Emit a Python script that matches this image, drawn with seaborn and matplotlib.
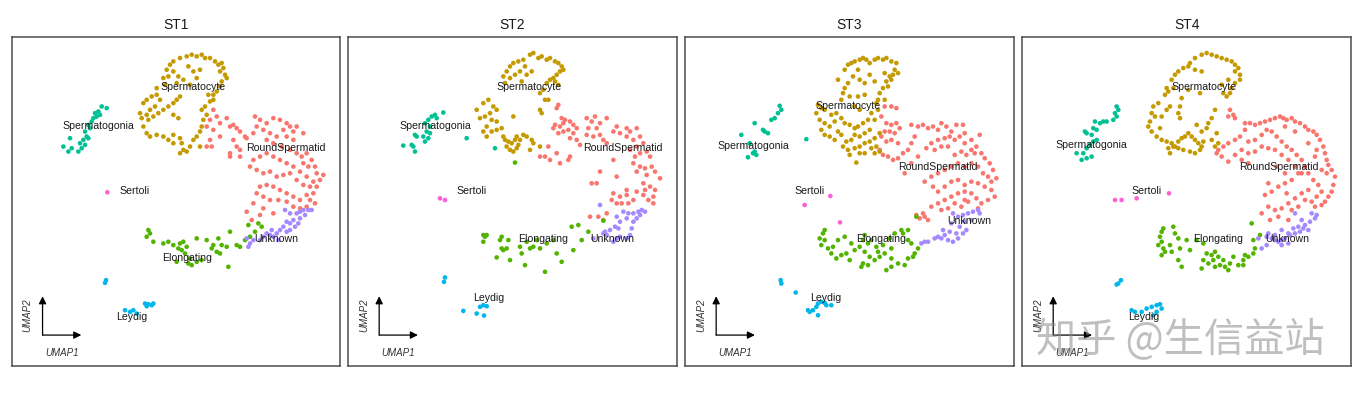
#!/usr/bin/env python3

import pandas as pd
import matplotlib
matplotlib.use("Agg")
import matplotlib.pyplot as plt
import seaborn as sns

# Cell type colours (ggplot default hue order of the Seurat object)
CELL_COLORS = {
    'RoundSpermatid': '#F8766D',
    'Spermatocyte':   '#C49A00',
    'Elongating':     '#53B400',
    'Spermatogonia':  '#00C094',
    'Leydig':         '#00B6EB',
    'Unknown':        '#A58AFF',
    'Sertoli':        '#FB61D7',
}
SAMPLES = ['ST1', 'ST2', 'ST3', 'ST4']

# ---------------- ST1 ----------------
ST1_SPERMATOCYTE = [
    (4.90, 7.65), (5.00, 7.90), (5.10, 8.05), (5.20, 8.15), (5.40, 8.25), (5.60, 8.30), (5.75, 8.35),
    (5.90, 8.30), (6.05, 8.35), (6.15, 8.25), (6.30, 8.25), (6.45, 8.15), (6.55, 8.05), (6.65, 8.10),
    (6.70, 7.95), (6.60, 7.85), (6.75, 7.75), (6.80, 7.65), (6.65, 7.55), (6.60, 7.40), (6.50, 7.25),
    (6.40, 7.15), (5.20, 7.85), (5.35, 7.70), (5.50, 7.60), (5.65, 8.00), (5.80, 7.85), (6.00, 7.90),
    (5.90, 7.65), (5.70, 7.45), (5.30, 7.50), (5.05, 7.70), (4.95, 7.45), (4.70, 7.35), (4.30, 6.90),
    (4.40, 7.00), (4.55, 7.10), (4.70, 7.15), (4.80, 7.00), (4.65, 6.80), (4.50, 6.70), (4.40, 6.55),
    (4.25, 6.45), (4.20, 6.60), (4.45, 6.40), (4.60, 6.50), (4.75, 6.60), (4.90, 6.70), (5.05, 6.80),
    (5.20, 6.90), (5.30, 7.00), (5.40, 7.10), (5.20, 6.55), (5.35, 6.45), (4.30, 6.20), (4.40, 6.00),
    (4.50, 5.90), (4.70, 5.95), (4.90, 5.90), (5.05, 5.80), (5.20, 5.95), (5.40, 5.85), (5.45, 5.70),
    (5.50, 5.50), (5.40, 5.40), (5.60, 5.45), (5.70, 5.60), (5.80, 5.80), (5.90, 5.90), (6.00, 6.05),
    (6.05, 6.20), (6.10, 6.40), (6.05, 6.70), (6.15, 6.80), (6.30, 6.95), (6.40, 7.00), (6.25, 7.15),
    (6.20, 6.55), (6.00, 5.60), (5.20, 5.70),
]
ST1_SPERMATOGONIA = [
    (3.05, 6.80), (3.20, 6.75), (2.95, 6.65), (2.85, 6.60), (3.00, 6.55), (2.80, 6.45), (2.90, 6.50),
    (2.75, 6.35), (2.65, 6.25), (2.70, 6.15), (2.55, 6.05), (2.60, 5.90), (2.50, 5.80), (2.65, 5.85),
    (2.40, 5.70), (2.55, 5.65), (2.35, 5.45), (2.10, 5.85), (1.90, 5.60), (2.05, 5.45), (2.15, 5.55),
    (2.45, 5.55),
]
ST1_SERTOLI = [(3.22, 4.23)]
ST1_LEYDIG = [
    (3.18, 1.60), (3.15, 1.52), (4.35, 0.90), (4.45, 0.88), (4.55, 0.85), (4.60, 0.90), (4.40, 0.82),
    (3.75, 0.70), (3.90, 0.65), (4.00, 0.70), (4.10, 0.60),
]
ST1_ROUND = [
    (6.40, 6.70), (6.50, 6.50), (6.30, 6.40), (6.20, 6.20), (6.40, 6.10), (6.60, 6.30), (6.80, 6.45),
    (6.90, 6.20), (7.00, 6.25), (7.10, 6.15), (7.20, 6.05), (7.35, 5.90), (7.00, 5.80), (7.10, 5.60),
    (6.90, 5.40), (7.20, 5.30), (7.40, 5.85), (6.30, 5.80), (6.20, 5.60), (6.35, 5.60), (6.60, 5.90),
    (7.65, 6.50), (7.80, 6.40), (8.00, 6.30), (8.20, 6.45), (8.40, 6.40), (8.60, 6.30), (8.50, 6.10),
    (8.70, 6.20), (8.80, 6.05), (8.90, 6.20), (9.10, 6.00), (8.80, 5.80), (8.60, 5.90), (8.30, 5.90),
    (8.10, 6.00), (7.90, 6.10), (7.70, 6.20), (7.60, 6.00), (8.00, 5.80), (8.20, 5.70), (8.45, 5.60),
    (8.70, 5.50), (8.90, 5.40), (9.05, 5.30), (9.20, 5.40), (9.35, 5.20), (9.10, 5.10), (9.25, 5.00),
    (9.45, 5.00), (9.50, 4.80), (9.60, 4.60), (9.70, 4.75), (9.40, 4.55), (9.20, 4.70), (9.00, 4.85),
    (8.80, 5.00), (8.60, 5.10), (8.40, 5.20), (8.20, 5.30), (8.00, 5.40), (7.80, 5.30), (7.60, 5.20),
    (7.50, 5.00), (7.70, 4.90), (7.90, 4.80), (8.10, 4.85), (8.30, 4.70), (8.50, 4.75), (8.70, 4.80),
    (8.90, 4.60), (9.10, 4.45), (9.30, 4.40), (9.50, 4.40), (9.40, 4.20), (9.20, 4.15), (9.30, 4.00),
    (9.45, 3.90), (9.20, 3.80), (9.00, 4.00), (8.80, 4.10), (8.60, 4.20), (8.40, 4.30), (8.20, 4.40),
    (8.00, 4.45), (7.80, 4.40), (7.70, 4.20), (7.90, 4.10), (8.10, 4.00), (8.35, 4.00), (8.60, 3.95),
    (8.80, 3.80), (9.00, 3.75), (7.60, 3.90), (7.90, 3.75), (7.40, 3.65), (7.55, 3.40), (7.80, 3.55),
    (8.20, 3.60), (7.20, 5.50), (6.90, 5.30),
]
ST1_UNKNOWN = [
    (8.55, 3.70), (8.70, 3.60), (8.90, 3.60), (9.00, 3.65), (9.10, 3.70), (9.25, 3.70), (9.35, 3.70),
    (9.15, 3.55), (9.00, 3.45), (8.80, 3.40), (8.70, 3.30), (8.60, 3.35), (8.50, 3.20), (8.40, 3.10),
    (8.30, 3.00), (8.15, 3.10), (8.00, 3.00), (7.90, 2.90), (7.80, 2.80), (7.60, 2.80), (7.50, 2.70),
    (7.45, 2.60), (7.40, 2.85), (8.70, 3.10), (8.85, 3.20), (8.95, 3.30), (8.20, 2.90), (8.10, 2.95),
    (8.35, 2.80), (8.60, 3.05),
]
ST1_ELONGATING = [
    (4.45, 3.10), (4.50, 3.00), (4.40, 2.90), (4.60, 2.75), (4.90, 2.70), (5.05, 2.75), (5.20, 2.65),
    (5.40, 2.70), (5.50, 2.75), (5.60, 2.60), (5.45, 2.50), (5.35, 2.55), (5.55, 2.40), (5.70, 2.25),
    (5.65, 2.10), (5.75, 2.05), (5.90, 2.15), (6.05, 2.20), (5.90, 2.85), (6.20, 2.80), (6.40, 2.65),
    (6.55, 2.85), (6.65, 2.65), (6.35, 2.55), (6.50, 2.45), (6.60, 2.40), (6.80, 2.60), (6.90, 3.05),
    (7.10, 2.65), (7.20, 2.60), (7.35, 2.80), (7.50, 2.90), (7.65, 3.05), (7.75, 3.30), (7.85, 3.20),
    (7.45, 3.25), (6.85, 2.00), (5.30, 2.15),
]
ST1_LABELS = {
    'Spermatocyte': (5.78, 7.38), 'Spermatogonia': (2.95, 6.22), 'RoundSpermatid': (8.58, 5.55),
    'Sertoli': (4.05, 4.27), 'Unknown': (8.28, 2.82), 'Elongating': (5.62, 2.25), 'Leydig': (3.95, 0.50),
}

# ---------------- ST2 ----------------
ST2_SPERMATOCYTE = [
    (5.00, 7.85), (5.10, 8.00), (5.20, 8.10), (5.35, 8.15), (5.50, 8.20), (5.70, 8.35), (5.80, 8.40),
    (5.95, 8.25), (6.05, 8.30), (6.20, 8.20), (6.30, 8.25), (6.45, 8.15), (6.55, 8.10), (6.65, 8.00),
    (6.70, 7.90), (6.60, 7.85), (6.50, 7.75), (6.40, 7.65), (6.30, 7.60), (6.45, 7.55), (6.55, 7.45),
    (6.20, 7.50), (6.10, 7.30), (6.00, 7.20), (6.15, 7.00), (6.25, 7.00), (6.00, 6.70), (6.05, 6.60),
    (5.40, 7.85), (5.55, 8.00), (5.60, 7.75), (5.25, 7.75), (5.10, 7.65), (4.95, 7.50), (5.45, 7.55),
    (5.75, 7.85), (4.90, 7.70), (4.10, 6.70), (4.30, 6.90), (4.45, 7.00), (4.60, 6.80), (4.70, 6.70),
    (4.50, 6.60), (4.35, 6.50), (4.20, 6.45), (4.55, 6.40), (4.70, 6.35), (4.40, 6.20), (4.30, 6.05),
    (4.40, 5.90), (4.55, 6.05), (4.70, 6.10), (4.85, 6.15), (4.90, 5.90), (4.95, 5.80), (5.05, 5.75),
    (5.15, 5.70), (5.25, 5.80), (5.30, 5.90), (5.00, 5.60), (5.10, 5.50), (5.20, 5.45), (5.30, 5.55),
    (5.35, 5.65), (5.40, 5.80), (5.50, 5.95), (5.60, 5.90), (5.75, 5.80), (5.80, 5.70), (5.70, 5.50),
    (6.00, 5.60), (5.20, 6.50),
]
ST2_SPERMATOGONIA = [
    (3.10, 6.62), (2.75, 6.50), (2.85, 6.55), (2.90, 6.45), (2.65, 6.40), (2.55, 6.30), (2.70, 6.20),
    (2.60, 6.05), (2.70, 6.00), (2.50, 5.90), (2.65, 5.85), (2.55, 5.75), (2.30, 5.90), (2.25, 5.95),
    (2.15, 5.65), (2.20, 5.60), (2.25, 5.45), (1.90, 5.63), (3.80, 5.85), (4.65, 5.55),
]
ST2_SERTOLI = [(3.00, 4.05), (3.15, 4.00)]
ST2_LEYDIG = [
    (3.15, 1.68), (3.12, 1.55), (4.20, 0.80), (4.30, 0.85), (4.40, 0.82), (4.10, 0.60), (4.32, 0.54),
    (3.70, 0.68),
]
ST2_ROUND = [
    (6.55, 6.85), (6.50, 6.75), (6.65, 6.45), (6.75, 6.40), (6.90, 6.35), (7.00, 6.25), (7.10, 6.15),
    (6.70, 6.30), (6.60, 6.20), (6.45, 6.25), (6.40, 6.15), (6.55, 6.00), (6.70, 6.05), (6.85, 6.10),
    (7.00, 6.00), (7.10, 5.80), (6.90, 5.85), (7.20, 5.65), (6.90, 5.30), (6.85, 5.20), (6.60, 5.10),
    (6.30, 5.20), (6.15, 5.30), (6.00, 5.30), (6.25, 5.60), (6.50, 5.40), (7.40, 6.45), (7.55, 6.35),
    (7.65, 6.50), (7.80, 6.30), (8.00, 6.45), (7.70, 6.15), (7.45, 6.15), (7.40, 5.95), (7.60, 5.90),
    (7.80, 5.95), (7.90, 5.80), (8.00, 5.70), (8.20, 6.05), (8.30, 6.20), (8.40, 6.00), (8.60, 6.15),
    (8.70, 6.05), (8.90, 6.15), (8.60, 5.90), (8.80, 5.80), (9.00, 5.90), (9.10, 5.70), (8.90, 5.60),
    (8.70, 5.50), (9.00, 5.40), (9.20, 5.45), (9.30, 5.30), (8.85, 5.30), (8.80, 5.10), (9.00, 5.00),
    (9.15, 4.95), (9.35, 5.00), (9.45, 4.85), (9.60, 4.65), (9.20, 4.75), (8.90, 4.85), (9.10, 4.50),
    (9.15, 4.30), (9.30, 4.40), (9.45, 4.30), (9.40, 4.10), (9.25, 4.00), (9.10, 4.15), (8.90, 4.25),
    (8.80, 4.00), (8.65, 3.90), (8.45, 3.90), (8.30, 3.90), (8.15, 4.00), (8.20, 4.20), (8.40, 4.10),
    (8.60, 4.15), (9.40, 3.90), (8.20, 5.20), (7.80, 4.85), (7.70, 4.50), (7.55, 4.50), (8.30, 4.70),
    (7.50, 3.50), (7.75, 3.50), (7.90, 3.40), (8.00, 3.60), (8.60, 4.30),
]
ST2_UNKNOWN = [
    (7.80, 3.85), (8.50, 3.65), (8.65, 3.60), (8.80, 3.60), (8.95, 3.65), (9.05, 3.70), (9.15, 3.65),
    (9.00, 3.55), (8.90, 3.45), (8.80, 3.35), (8.60, 3.45), (8.40, 3.35), (8.25, 3.20), (8.35, 3.15),
    (8.10, 3.10), (7.95, 3.05), (7.90, 3.00), (8.00, 2.95), (8.20, 2.75), (8.30, 2.85), (8.40, 2.90),
    (8.60, 2.85), (8.70, 2.95), (8.75, 3.15), (7.60, 2.85), (8.30, 3.50),
]
ST2_ELONGATING = [
    (4.30, 2.95), (4.40, 2.95), (4.35, 2.90), (4.30, 2.75), (4.80, 2.80), (4.85, 2.90), (4.90, 2.50),
    (4.85, 2.55), (5.00, 2.55), (5.05, 2.80), (4.70, 2.28), (5.10, 2.20), (5.45, 2.40), (5.55, 2.05),
    (5.60, 2.75), (5.70, 2.55), (5.80, 2.60), (6.00, 2.55), (6.15, 1.85), (6.40, 2.80), (6.50, 2.40),
    (6.65, 2.15), (7.00, 2.50), (6.95, 3.20), (7.15, 3.25), (7.25, 2.80), (7.45, 3.05), (7.90, 3.38),
    (5.25, 5.12), (5.40, 2.60), (5.90, 2.80), (6.20, 2.70),
]
ST2_LABELS = {
    'Spermatocyte': (5.68, 7.38), 'Spermatogonia': (2.85, 6.22), 'RoundSpermatid': (8.48, 5.55),
    'Sertoli': (3.95, 4.27), 'Elongating': (6.10, 2.82), 'Unknown': (8.18, 2.82), 'Leydig': (4.45, 1.07),
}

# ---------------- ST3 ----------------
ST3_SPERMATOCYTE = [
    (5.00, 7.90), (5.10, 8.05), (5.20, 8.10), (5.30, 8.15), (5.45, 8.20), (5.55, 8.25), (5.65, 8.20),
    (5.75, 8.10), (5.90, 8.20), (6.00, 8.25), (6.15, 8.20), (6.25, 8.25), (6.40, 8.15), (6.55, 8.10),
    (6.50, 7.90), (6.60, 7.80), (6.45, 7.75), (6.40, 7.60), (6.25, 7.55), (6.30, 7.40), (6.15, 7.35),
    (6.05, 7.20), (6.00, 7.00), (5.95, 6.90), (6.20, 7.00), (6.35, 7.70), (6.20, 7.80), (5.40, 7.90),
    (5.25, 7.70), (5.45, 7.60), (5.60, 7.50), (5.10, 7.50), (5.00, 7.35), (4.95, 7.20), (4.80, 7.60),
    (4.90, 7.00), (5.75, 7.75), (5.90, 7.55), (5.60, 7.15), (5.40, 7.10), (5.15, 7.10), (5.30, 6.80),
    (5.45, 6.70), (4.20, 6.85), (4.30, 6.75), (4.40, 6.70), (4.15, 6.60), (4.25, 6.40), (4.40, 6.30),
    (4.55, 6.20), (4.70, 6.35), (4.60, 6.55), (4.75, 6.60), (4.90, 6.45), (5.00, 6.30), (5.15, 6.25),
    (5.30, 6.15), (5.40, 6.20), (5.55, 6.30), (5.70, 6.40), (5.80, 6.60), (5.90, 6.40), (5.75, 6.10),
    (5.60, 6.00), (5.45, 5.90), (5.30, 5.95), (5.20, 5.80), (5.05, 5.75), (4.90, 5.95), (4.80, 6.05),
    (4.70, 5.80), (4.95, 5.60), (5.10, 5.50), (5.30, 5.55), (5.45, 5.60), (5.60, 5.70), (5.75, 5.75),
    (5.90, 5.85), (5.80, 5.55), (5.95, 5.60), (6.05, 5.45), (5.90, 5.40), (5.60, 5.40), (5.45, 5.40),
    (5.15, 5.35), (5.35, 5.12), (4.30, 6.10), (4.40, 5.95), (4.55, 5.90), (6.00, 6.70), (6.05, 6.00),
]
ST3_SPERMATOGONIA = [
    (3.05, 6.82), (3.10, 6.70), (3.00, 6.60), (2.90, 6.45), (2.80, 6.40), (2.30, 6.30), (2.55, 6.10),
    (2.60, 6.05), (2.70, 6.00), (1.90, 5.95), (2.15, 5.70), (2.30, 5.45), (2.25, 5.40), (2.10, 5.28),
    (2.35, 5.35), (3.85, 5.82),
]
ST3_SERTOLI = [(4.57, 4.12), (3.80, 3.85), (4.86, 3.33)]
ST3_LEYDIG = [
    (3.08, 1.60), (3.10, 1.50), (3.53, 1.23), (4.20, 0.90), (4.30, 0.95), (4.40, 0.92), (4.45, 0.85),
    (4.15, 0.80), (4.05, 0.70), (3.95, 0.65), (3.90, 0.70), (4.20, 0.55), (4.60, 0.85),
]
ST3_ROUND = [
    (6.20, 6.80), (6.40, 6.80), (6.55, 6.75), (6.10, 6.50), (6.25, 6.30), (6.40, 6.25), (6.55, 6.30),
    (6.65, 6.15), (6.50, 6.00), (6.35, 6.05), (6.20, 6.05), (6.10, 5.90), (6.25, 5.75), (6.40, 5.80),
    (6.60, 5.70), (6.05, 5.50), (6.15, 5.35), (6.30, 5.30), (6.45, 5.20), (6.60, 5.25), (6.75, 5.40),
    (6.90, 5.50), (7.00, 5.70), (7.10, 5.90), (7.20, 6.20), (7.35, 6.25), (7.00, 6.25), (7.50, 6.15),
    (7.65, 6.20), (7.80, 6.10), (7.90, 6.30), (8.05, 6.20), (8.20, 6.05), (8.35, 6.25), (8.55, 6.25),
    (8.60, 6.00), (8.45, 5.90), (8.30, 5.80), (8.15, 5.90), (8.00, 5.85), (7.80, 5.80), (7.60, 5.70),
    (7.45, 5.55), (7.70, 5.50), (7.90, 5.60), (8.10, 5.60), (8.60, 5.70), (8.80, 5.80), (9.05, 5.95),
    (8.95, 5.60), (8.80, 5.50), (8.65, 5.35), (8.90, 5.40), (9.10, 5.40), (9.20, 5.25), (9.35, 5.10),
    (9.45, 4.90), (9.55, 4.65), (9.40, 4.55), (9.30, 4.70), (9.15, 4.80), (9.00, 5.00), (8.80, 5.10),
    (8.60, 5.00), (8.40, 5.10), (8.20, 5.00), (8.00, 4.90), (7.80, 4.80), (7.60, 4.70), (7.40, 4.55),
    (7.65, 4.40), (7.80, 4.25), (8.00, 4.40), (8.20, 4.55), (8.40, 4.60), (8.60, 4.45), (8.80, 4.55),
    (9.00, 4.50), (9.20, 4.40), (9.40, 4.30), (9.50, 4.10), (9.30, 4.00), (9.10, 3.90), (8.95, 4.05),
    (8.80, 4.20), (8.60, 4.25), (8.40, 4.20), (8.20, 4.10), (8.00, 4.00), (7.80, 3.90), (7.60, 3.80),
    (7.90, 3.70), (8.10, 3.75), (8.30, 3.90), (8.50, 3.80), (8.70, 3.95), (9.00, 3.75), (7.40, 3.50),
    (7.50, 3.40), (7.35, 3.60), (7.25, 3.45), (7.15, 3.55), (8.60, 4.00), (6.80, 4.80), (7.00, 5.10),
    (7.20, 5.30), (8.30, 5.35), (8.50, 5.45),
]
ST3_UNKNOWN = [
    (8.25, 3.60), (8.40, 3.50), (8.55, 3.55), (8.70, 3.60), (8.85, 3.65), (9.00, 3.70), (9.05, 3.60),
    (8.80, 3.40), (8.60, 3.35), (8.45, 3.20), (8.65, 3.10), (8.55, 3.00), (8.35, 3.00), (8.15, 3.05),
    (8.00, 2.95), (7.90, 2.85), (8.10, 2.80), (8.25, 2.75), (8.40, 2.85), (7.80, 2.90), (7.70, 2.85),
    (7.50, 2.75), (7.40, 2.75), (7.30, 2.70), (7.95, 3.10), (8.20, 3.30),
]
ST3_ELONGATING = [
    (4.40, 3.10), (4.35, 3.00), (4.25, 2.85), (4.40, 2.80), (4.30, 2.65), (4.50, 2.55), (4.60, 2.40),
    (4.75, 2.25), (4.90, 2.35), (5.05, 2.40), (5.15, 2.20), (5.30, 2.50), (5.45, 2.60), (5.55, 2.80),
    (5.70, 2.70), (5.60, 2.45), (5.75, 2.30), (5.55, 2.10), (5.50, 2.00), (5.70, 2.05), (5.90, 2.20),
    (6.05, 2.30), (6.20, 2.40), (6.40, 2.25), (6.60, 2.10), (6.80, 2.05), (6.90, 2.25), (7.05, 2.30),
    (7.10, 2.40), (7.20, 2.55), (7.00, 2.70), (6.90, 2.80), (6.75, 3.00), (6.70, 3.10), (6.90, 3.10),
    (6.50, 3.00), (6.35, 2.85), (6.15, 2.65), (5.95, 2.60), (5.80, 2.80), (5.20, 2.70), (5.00, 2.90),
    (4.80, 2.80), (4.65, 2.60), (6.25, 1.90), (6.40, 2.00), (7.15, 3.50), (6.00, 2.45), (6.40, 2.55),
    (5.60, 2.95),
]
ST3_LABELS = {
    'Spermatocyte': (5.10, 6.80), 'Spermatogonia': (2.25, 5.63), 'RoundSpermatid': (7.78, 4.98),
    'Sertoli': (3.95, 4.27), 'Unknown': (8.75, 3.37), 'Elongating': (6.10, 2.82), 'Leydig': (4.42, 1.07),
}

# ---------------- ST4 ----------------
ST4_SPERMATOCYTE = [
    (4.70, 7.60), (4.80, 7.75), (4.90, 7.85), (5.05, 7.95), (5.20, 8.00), (5.25, 8.10), (5.40, 8.25),
    (5.60, 8.35), (5.75, 8.40), (5.90, 8.35), (6.05, 8.30), (6.20, 8.25), (6.35, 8.20), (6.50, 8.15),
    (6.60, 8.05), (6.70, 7.95), (6.60, 7.85), (6.75, 7.75), (6.75, 7.60), (6.60, 7.50), (6.50, 7.35),
    (6.45, 7.20), (6.35, 7.10), (6.25, 7.20), (6.20, 7.45), (6.40, 7.60), (5.40, 7.90), (5.60, 7.85),
    (5.55, 7.20), (5.20, 7.30), (5.00, 7.05), (4.55, 7.35), (4.60, 7.25), (4.75, 7.35), (4.50, 7.15),
    (4.30, 6.90), (4.15, 6.80), (4.10, 6.60), (4.20, 6.50), (4.05, 6.35), (4.00, 6.20), (4.10, 6.05),
    (4.25, 5.90), (4.40, 5.80), (4.55, 5.75), (4.70, 5.70), (4.80, 5.60), (4.90, 5.75), (5.00, 5.85),
    (5.10, 5.90), (5.20, 6.00), (5.30, 5.90), (5.40, 5.80), (5.50, 5.70), (5.55, 5.50), (5.40, 5.40),
    (5.25, 5.45), (5.05, 5.50), (4.90, 5.55), (4.75, 5.60), (4.60, 5.55), (4.65, 5.40), (5.45, 6.25),
    (5.60, 6.05), (5.75, 6.15), (5.80, 6.30), (5.90, 6.45), (6.00, 6.70), (6.05, 6.00), (5.90, 5.80),
    (5.65, 5.75), (5.60, 5.60), (6.00, 5.60), (6.10, 5.70), (4.95, 6.80), (4.90, 6.60), (4.95, 6.45),
    (4.40, 6.50), (4.55, 6.70), (4.65, 6.80), (4.35, 6.15),
]
ST4_SPERMATOGONIA = [
    (3.05, 6.80), (3.10, 6.70), (3.00, 6.60), (3.05, 6.50), (2.95, 6.40), (2.75, 6.35), (2.65, 6.35),
    (2.55, 6.30), (2.40, 6.35), (2.35, 6.15), (2.45, 6.10), (2.30, 5.95), (2.10, 6.05), (2.15, 6.00),
    (2.35, 5.75), (2.45, 5.80), (2.25, 5.65), (2.15, 5.55), (2.05, 5.40), (2.00, 5.20), (2.15, 5.25),
    (2.30, 5.30), (1.85, 5.40),
]
ST4_SERTOLI = [(3.00, 4.00), (3.20, 4.00), (3.65, 4.05), (4.62, 4.20)]
ST4_LEYDIG = [
    (3.18, 1.60), (3.10, 1.50), (3.05, 1.47), (3.50, 0.70), (3.60, 0.65), (3.80, 0.65), (3.95, 0.75),
    (4.10, 0.80), (4.25, 0.85), (4.35, 0.88), (4.40, 0.75), (4.25, 0.65), (4.15, 0.55),
]
ST4_ROUND = [
    (6.45, 6.70), (6.55, 6.55), (6.60, 6.45), (6.40, 6.50), (6.90, 6.30), (7.05, 6.30), (7.20, 6.25),
    (7.35, 6.30), (7.50, 6.35), (7.65, 6.40), (7.80, 6.45), (7.95, 6.50), (8.05, 6.45), (8.15, 6.40),
    (8.30, 6.45), (8.40, 6.35), (8.55, 6.30), (8.70, 6.20), (8.80, 6.10), (8.95, 6.05), (9.05, 5.95),
    (9.15, 5.80), (9.25, 5.60), (9.30, 5.40), (9.35, 5.20), (9.40, 5.05), (9.50, 4.90), (9.60, 4.70),
    (9.55, 4.45), (9.50, 4.25), (9.40, 4.10), (9.30, 3.95), (9.20, 3.85), (9.00, 3.80), (8.90, 3.95),
    (9.05, 4.10), (9.20, 4.25), (9.10, 4.45), (8.95, 4.60), (8.80, 4.80), (8.70, 5.00), (8.60, 5.20),
    (8.45, 5.35), (8.30, 5.50), (8.15, 5.60), (8.00, 5.75), (7.85, 5.90), (7.70, 6.05), (7.55, 6.10),
    (7.40, 5.95), (7.20, 5.80), (7.00, 5.75), (6.90, 6.10), (6.75, 5.90), (6.60, 5.80), (6.40, 5.70),
    (6.25, 5.60), (6.10, 5.50), (6.05, 5.40), (6.20, 5.30), (6.40, 5.15), (6.60, 5.35), (6.80, 5.50),
    (7.00, 5.40), (7.20, 5.45), (7.40, 5.60), (7.60, 5.55), (7.80, 5.50), (8.00, 5.35), (8.20, 5.20),
    (8.40, 5.00), (8.50, 4.80), (8.30, 4.60), (8.10, 4.50), (7.90, 4.40), (7.70, 4.25), (7.50, 4.15),
    (7.60, 3.80), (7.80, 3.70), (8.00, 3.75), (8.20, 3.90), (8.40, 4.05), (8.60, 4.20), (8.70, 4.00),
    (8.50, 3.80), (8.30, 3.70), (7.40, 3.60), (7.65, 3.40), (7.90, 3.50), (8.20, 3.40), (8.60, 4.80),
    (8.80, 4.30), (9.00, 5.30), (9.20, 4.90), (9.35, 4.80), (8.10, 6.20), (8.40, 6.05), (8.80, 5.70),
    (9.05, 5.50), (7.60, 4.50), (8.10, 4.80), (7.85, 5.00), (8.15, 4.20), (7.00, 5.10), (6.80, 5.20),
]
ST4_UNKNOWN = [
    (8.90, 3.60), (9.05, 3.55), (9.00, 3.45), (8.85, 3.35), (8.70, 3.25), (8.65, 3.15), (8.55, 3.05),
    (8.40, 3.00), (8.25, 2.95), (8.10, 2.85), (8.00, 2.80), (7.90, 2.75), (7.80, 2.80), (7.70, 2.85),
    (7.55, 2.90), (7.60, 3.00), (7.80, 2.95), (8.00, 3.10), (8.20, 3.00), (8.35, 3.15), (8.50, 3.20),
    (8.80, 3.10), (8.60, 3.40), (8.40, 3.60), (8.20, 2.70), (8.00, 2.65), (7.40, 2.55), (7.55, 2.65),
    (7.30, 2.85),
]
ST4_ELONGATING = [
    (4.45, 3.15), (4.40, 3.05), (4.35, 2.90), (4.40, 2.75), (4.30, 2.65), (4.45, 2.55), (4.50, 2.45),
    (4.40, 2.35), (4.65, 2.65), (4.75, 3.20), (4.80, 3.00), (4.90, 2.85), (4.95, 2.55), (4.70, 2.45),
    (4.90, 2.20), (5.00, 2.00), (5.15, 2.80), (5.25, 2.50), (5.45, 2.80), (5.65, 2.70), (5.75, 2.40),
    (5.90, 2.35), (6.00, 2.45), (6.10, 2.30), (5.95, 2.20), (5.80, 2.10), (5.60, 1.95), (6.00, 2.00),
    (6.15, 2.05), (6.30, 2.00), (6.40, 1.90), (6.45, 2.10), (6.55, 2.30), (6.70, 2.05), (6.85, 2.20),
    (6.90, 2.35), (7.00, 2.30), (7.15, 2.40), (7.20, 2.55), (7.15, 2.80), (7.10, 3.30), (7.35, 2.95),
    (6.85, 2.05), (6.25, 2.20), (5.65, 2.20),
]
ST4_LABELS = {
    'Spermatocyte': (5.68, 7.38), 'Spermatogonia': (2.28, 5.65), 'RoundSpermatid': (7.92, 4.98),
    'Sertoli': (3.95, 4.27), 'Elongating': (6.10, 2.82), 'Unknown': (8.18, 2.82), 'Leydig': (3.85, 0.50),
}

PANEL_DATA = {
    'ST1': {'RoundSpermatid': ST1_ROUND, 'Spermatocyte': ST1_SPERMATOCYTE, 'Elongating': ST1_ELONGATING,
            'Spermatogonia': ST1_SPERMATOGONIA, 'Leydig': ST1_LEYDIG, 'Unknown': ST1_UNKNOWN,
            'Sertoli': ST1_SERTOLI},
    'ST2': {'RoundSpermatid': ST2_ROUND, 'Spermatocyte': ST2_SPERMATOCYTE, 'Elongating': ST2_ELONGATING,
            'Spermatogonia': ST2_SPERMATOGONIA, 'Leydig': ST2_LEYDIG, 'Unknown': ST2_UNKNOWN,
            'Sertoli': ST2_SERTOLI},
    'ST3': {'RoundSpermatid': ST3_ROUND, 'Spermatocyte': ST3_SPERMATOCYTE, 'Elongating': ST3_ELONGATING,
            'Spermatogonia': ST3_SPERMATOGONIA, 'Leydig': ST3_LEYDIG, 'Unknown': ST3_UNKNOWN,
            'Sertoli': ST3_SERTOLI},
    'ST4': {'RoundSpermatid': ST4_ROUND, 'Spermatocyte': ST4_SPERMATOCYTE, 'Elongating': ST4_ELONGATING,
            'Spermatogonia': ST4_SPERMATOGONIA, 'Leydig': ST4_LEYDIG, 'Unknown': ST4_UNKNOWN,
            'Sertoli': ST4_SERTOLI},
}
PANEL_LABELS = {'ST1': ST1_LABELS, 'ST2': ST2_LABELS, 'ST3': ST3_LABELS, 'ST4': ST4_LABELS}

# axes boxes in pixels (left, right) and shared x/y ranges per panel
PANEL_X_PX = {'ST1': (11.7, 340.0), 'ST2': (348.3, 676.7), 'ST3': (685.3, 1013.7), 'ST4': (1022.3, 1351.0)}
PANEL_XLIM = {'ST1': (0.35, 10.20), 'ST2': (0.25, 10.10), 'ST3': (0.22, 10.07), 'ST4': (0.22, 10.08)}
YLIM = (-0.97, 8.88)

W, H = 1360, 394


def build_frame():
    rows = []
    for sample, clusters in PANEL_DATA.items():
        for cell_type, pts in clusters.items():
            for u1, u2 in pts:
                rows.append({'sample': sample, 'cell_type': cell_type, 'UMAP_1': u1, 'UMAP_2': u2})
    return pd.DataFrame(rows)


def draw_panel(ax, df_s, sample):
    sns.scatterplot(data=df_s, x='UMAP_1', y='UMAP_2', hue='cell_type', palette=CELL_COLORS,
                    s=11, linewidth=0, legend=False, ax=ax)
    ax.set_xlim(*PANEL_XLIM[sample])
    ax.set_ylim(*YLIM)
    ax.set_xticks([])
    ax.set_yticks([])
    ax.set_xlabel('')
    ax.set_ylabel('')
    for sp in ax.spines.values():
        sp.set_visible(True)
        sp.set_color('#4d4d4d')
        sp.set_linewidth(1.1)
    ax.set_title(sample, fontsize=10, pad=6, color='#1a1a1a')

    for name, (lx, ly) in PANEL_LABELS[sample].items():
        ax.text(lx, ly, name, fontsize=7.6, ha='center', va='center', color='#1a1a1a')

    # UMAP axis arrows in the corner
    ox, oy, ln = 0.094, 0.094, 0.118
    arrow = dict(arrowstyle='-|>', color='black', lw=0.9, mutation_scale=11, shrinkA=0, shrinkB=0)
    ax.annotate('', xy=(ox + ln, oy), xytext=(ox, oy), xycoords='axes fraction', arrowprops=arrow)
    ax.annotate('', xy=(ox, oy + ln), xytext=(ox, oy), xycoords='axes fraction', arrowprops=arrow)
    ax.text(0.152, 0.041, 'UMAP1', transform=ax.transAxes, fontsize=7, style='italic',
            ha='center', va='center', color='#333333')
    ax.text(0.048, 0.155, 'UMAP2', transform=ax.transAxes, fontsize=7, style='italic',
            rotation=90, ha='center', va='center', color='#333333')


def main():
    sns.set_style("white")
    plt.rcParams['font.family'] = ['Liberation Sans', 'DejaVu Sans']

    df = build_frame()
    fig = plt.figure(figsize=(W / 100, H / 100), dpi=100)

    bottom = (H - 366) / H
    height = 329 / H
    for sample in SAMPLES:
        x0, x1 = PANEL_X_PX[sample]
        ax = fig.add_axes([x0 / W, bottom, (x1 - x0) / W, height])
        draw_panel(ax, df[df['sample'] == sample], sample)

    # source watermark
    fig.text(1180 / W, 1 - 340 / H, '知乎 @生信益站', fontsize=29, color='#8c8c8c', alpha=0.55,
             ha='center', va='center', family=['Noto Sans CJK SC', 'DejaVu Sans'])

    fig.savefig('out.png', dpi=100)
    plt.close(fig)


if __name__ == "__main__":
    main()
